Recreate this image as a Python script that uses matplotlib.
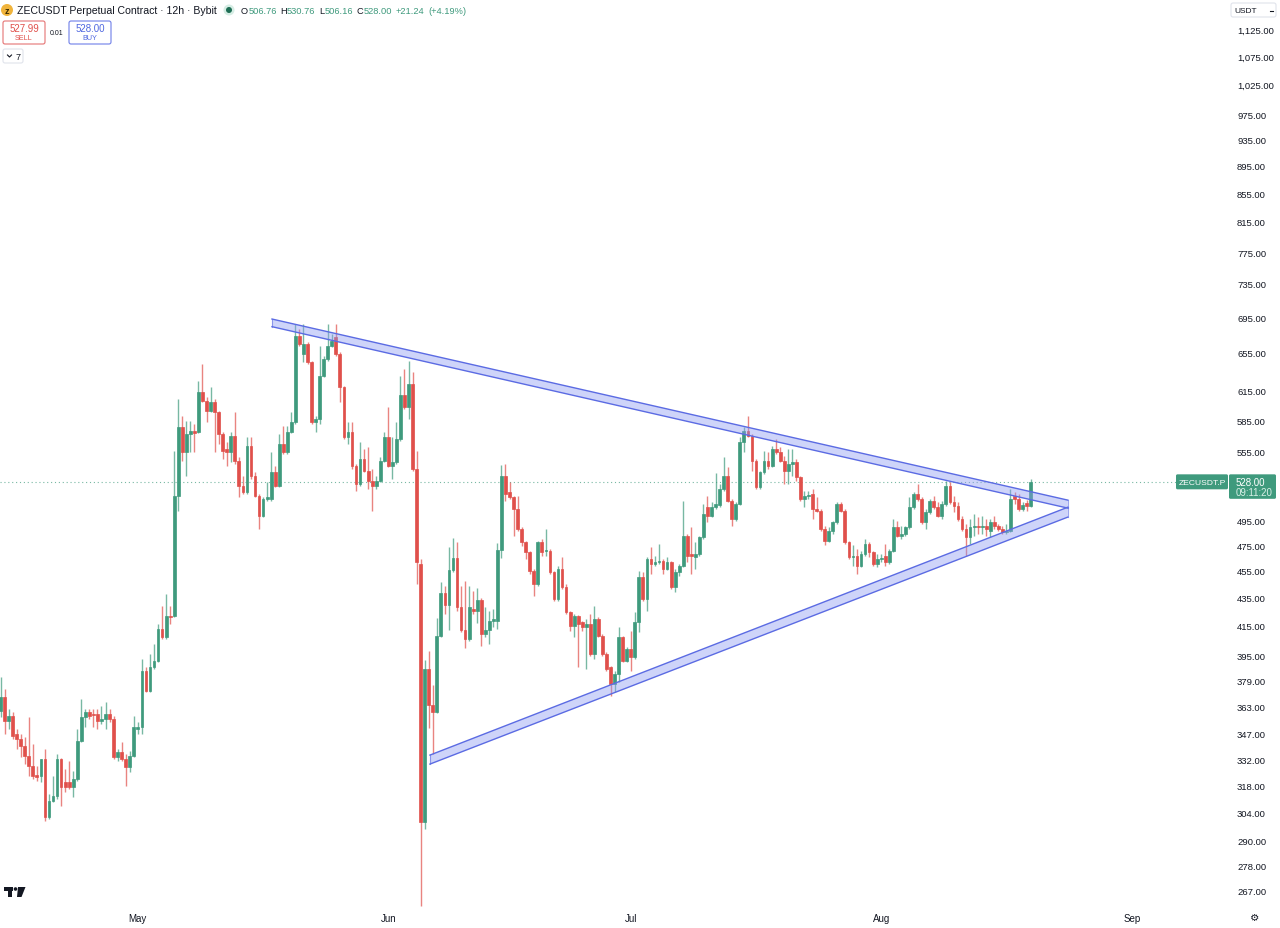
import numpy as np
import pandas as pd
import matplotlib
matplotlib.use('Agg')
import matplotlib.pyplot as plt
import matplotlib.dates as mdates
from matplotlib.patches import Polygon, FancyBboxPatch, Rectangle, Circle
from matplotlib.ticker import FixedLocator, NullLocator, FuncFormatter
from matplotlib.transforms import Affine2D

# ---------------- data (12h candles, ZECUSDT.P) ----------------
start_date = '2025-04-14'
opens = [360.0, 368.4, 353.9, 356.9, 346.4, 343.5, 339.5, 333.9, 328.4, 323.4,
         322.9, 332.2, 301.5, 309.7, 312.3, 332.2, 319.7, 319.7, 317.0, 321.3,
         342.4, 356.3, 359.3, 358.1, 358.1, 353.9, 355.1, 358.1, 355.1, 333.3,
         336.1, 332.2, 327.8, 333.9, 349.3, 350.5, 384.8, 372.2, 387.4, 391.3,
         412.8, 407.3, 421.8, 421.8, 515.5, 578.5, 554.8, 571.8, 574.7, 573.7,
         613.5, 604.3, 594.2, 603.3, 593.2, 571.8, 557.6, 554.8, 569.9, 546.6,
         524.2, 518.9, 560.4, 533.1, 515.5, 498.6, 512.9, 512.9, 536.6, 524.2,
         562.3, 554.8, 573.7, 583.4, 673.5, 653.6, 664.6, 644.9, 583.4, 586.3,
         630.0, 648.2, 662.4, 672.4, 653.6, 618.6, 568.9, 573.7, 542.0, 526.0,
         548.4, 537.5, 528.6, 524.2, 528.6, 546.6, 568.9, 542.0, 545.7, 567.0,
         610.3, 598.2, 621.7, 539.3, 460.1, 299.0, 386.1, 363.5, 359.3, 408.0,
         438.4, 429.6, 455.5, 464.8, 428.2, 412.1, 405.9, 426.8, 425.4, 433.3,
         409.3, 412.1, 418.3, 418.3, 471.0, 533.1, 518.9, 514.6, 504.4, 487.8,
         477.3, 469.4, 454.8, 445.0, 477.3, 470.2, 470.2, 454.0, 434.0, 456.3,
         442.8, 424.7, 414.9, 421.8, 417.6, 414.2, 416.2, 395.9, 419.7, 407.9,
         395.9, 387.4, 376.5, 382.9, 407.3, 391.3, 399.2, 393.9, 417.6, 450.2,
         434.0, 464.0, 460.1, 461.7, 462.5, 456.3, 461.7, 442.8, 454.0, 458.6,
         482.1, 467.9, 465.6, 467.9, 481.3, 506.1, 498.6, 506.1, 507.7, 521.6,
         533.1, 511.2, 496.1, 508.6, 564.2, 574.7, 569.9, 546.6, 523.4, 536.6,
         546.6, 542.0, 557.6, 554.8, 546.6, 537.5, 543.8, 545.7, 532.2, 512.9,
         515.5, 517.2, 504.4, 502.7, 487.8, 478.1, 486.2, 493.6, 508.6, 502.7,
         477.3, 465.6, 466.3, 458.6, 467.9, 475.7, 469.4, 460.1, 464.0, 466.3,
         461.7, 470.2, 489.4, 482.1, 483.7, 489.4, 506.1, 517.2, 512.9, 493.6,
         501.9, 511.2, 506.1, 498.6, 508.6, 524.2, 510.3, 506.9, 496.1, 487.8,
         481.3, 489.4, 490.3, 489.4, 490.3, 486.2, 493.6, 490.3, 487.8, 485.4,
         486.2, 515.5, 512.9, 504.4, 510.0, 506.76]
highs = [381.0, 373.4, 361.1, 359.3, 349.3, 346.4, 344.7, 356.3, 340.6, 328.4,
         332.2, 337.8, 313.3, 322.9, 335.0, 333.0, 326.7, 331.1, 325.6, 349.3,
         367.2, 361.1, 361.1, 361.1, 361.1, 362.9, 365.4, 361.1, 356.9, 337.8,
         341.8, 335.0, 336.7, 356.9, 353.3, 392.6, 387.4, 395.9, 402.5, 416.2,
         429.0, 437.6, 429.0, 555.8, 606.3, 589.3, 584.4, 584.4, 581.4, 624.8,
         642.8, 608.3, 618.6, 606.3, 594.0, 573.7, 564.2, 573.7, 593.2, 550.2,
         533.1, 568.9, 568.9, 536.6, 517.2, 514.6, 527.7, 554.8, 542.0, 571.8,
         579.5, 579.5, 593.2, 687.3, 681.5, 687.3, 666.8, 646.0, 589.3, 662.4,
         651.5, 687.3, 675.8, 687.3, 655.8, 619.6, 583.4, 583.4, 543.8, 564.2,
         557.6, 559.5, 539.3, 533.1, 550.2, 573.7, 598.2, 568.9, 583.4, 630.0,
         637.4, 646.0, 634.2, 555.8, 464.0, 392.0, 397.9, 375.9, 420.4, 446.5,
         443.5, 473.4, 480.5, 477.3, 443.5, 447.2, 443.5, 439.8, 442.0, 434.7,
         428.2, 425.4, 426.8, 476.5, 542.9, 543.8, 527.7, 515.5, 515.5, 489.4,
         478.1, 470.2, 456.3, 478.1, 479.7, 487.8, 471.8, 454.8, 458.6, 465.6,
         445.0, 425.4, 423.3, 422.5, 418.3, 419.7, 423.3, 428.9, 421.1, 409.3,
         397.2, 388.0, 384.8, 414.2, 407.9, 400.5, 411.4, 424.7, 454.8, 454.0,
         465.6, 473.4, 466.3, 475.7, 464.0, 465.6, 462.5, 456.3, 460.1, 511.2,
         483.7, 489.4, 477.3, 482.1, 508.6, 515.5, 510.3, 535.7, 526.0, 550.2,
         541.1, 512.9, 510.3, 568.9, 578.5, 589.3, 571.8, 548.4, 537.5, 555.8,
         554.8, 560.4, 567.0, 559.5, 551.1, 557.6, 557.6, 548.4, 533.1, 519.9,
         519.9, 521.6, 514.6, 504.4, 490.3, 489.4, 494.4, 510.3, 510.3, 504.4,
         478.1, 474.9, 471.8, 470.2, 479.7, 477.3, 470.2, 467.9, 467.9, 475.7,
         471.8, 496.1, 494.4, 490.3, 490.3, 514.6, 518.9, 526.0, 514.6, 504.4,
         512.9, 515.5, 510.3, 511.2, 528.6, 527.7, 515.5, 510.3, 498.6, 491.9,
         496.1, 500.2, 497.8, 498.6, 496.1, 496.1, 498.6, 491.9, 490.3, 491.9,
         521.6, 518.9, 517.2, 510.3, 512.0, 530.76]
lows = [356.3, 346.4, 349.3, 343.5, 337.8, 333.3, 329.5, 322.9, 321.3, 320.2,
        319.7, 299.5, 300.5, 309.2, 310.7, 307.1, 314.3, 315.9, 311.7, 320.2,
        341.8, 350.5, 355.1, 350.5, 349.3, 352.2, 349.3, 353.3, 332.2, 331.1,
        331.1, 317.5, 325.1, 333.3, 346.4, 346.4, 371.5, 371.5, 386.1, 390.6,
        405.9, 405.9, 416.2, 421.0, 502.7, 546.6, 533.1, 554.8, 554.8, 573.0,
        603.3, 583.4, 593.2, 554.8, 562.3, 548.4, 542.0, 545.7, 543.8, 514.6,
        517.2, 517.2, 530.4, 514.6, 487.8, 497.8, 511.2, 511.2, 523.4, 523.5,
        553.0, 553.0, 573.0, 581.4, 662.4, 644.9, 642.8, 581.4, 573.7, 581.4,
        628.9, 646.0, 661.3, 651.5, 603.3, 567.0, 562.3, 539.3, 519.9, 524.2,
        536.6, 521.6, 502.7, 521.6, 527.7, 545.7, 541.1, 530.4, 543.8, 565.1,
        596.2, 586.3, 537.5, 445.0, 259.9, 295.5, 349.9, 335.0, 358.7, 407.3,
        423.3, 412.1, 454.0, 425.4, 410.7, 399.9, 404.6, 423.3, 417.0, 401.2,
        407.3, 402.5, 414.2, 412.8, 464.8, 511.2, 512.9, 482.1, 486.2, 474.2,
        464.0, 452.6, 436.2, 443.5, 466.3, 466.3, 452.6, 432.6, 432.6, 441.3,
        423.3, 411.4, 407.3, 387.4, 411.4, 386.1, 394.6, 392.6, 407.3, 394.6,
        384.8, 369.1, 371.5, 377.8, 390.6, 390.6, 384.8, 392.6, 410.7, 432.6,
        425.4, 452.6, 458.6, 460.1, 452.6, 455.5, 441.3, 439.1, 451.0, 457.8,
        461.7, 452.6, 456.3, 466.3, 479.7, 493.6, 497.8, 504.4, 506.1, 519.9,
        510.3, 490.3, 494.4, 507.7, 554.8, 568.9, 537.5, 521.6, 521.6, 534.8,
        539.3, 541.1, 553.0, 545.7, 526.0, 526.0, 533.1, 528.6, 511.2, 506.1,
        512.9, 496.1, 501.9, 486.2, 474.9, 477.3, 483.7, 491.9, 501.9, 475.7,
        464.0, 458.6, 452.6, 457.8, 466.3, 465.6, 458.6, 457.8, 461.7, 458.6,
        460.1, 469.4, 481.3, 479.7, 482.1, 487.8, 504.4, 511.2, 491.9, 487.8,
        500.2, 504.4, 497.8, 496.1, 506.9, 508.6, 501.9, 494.4, 486.2, 466.3,
        475.7, 482.1, 483.7, 483.7, 482.1, 481.3, 487.8, 486.2, 483.7, 483.7,
        485.4, 508.6, 502.7, 502.7, 503.0, 506.16]
closes = [368.4, 353.9, 356.9, 345.2, 343.5, 339.5, 333.9, 328.4, 322.9, 322.4,
          332.2, 301.5, 309.7, 312.3, 332.2, 317.0, 317.0, 317.0, 321.3, 342.4,
          356.3, 359.3, 356.9, 357.5, 353.9, 355.1, 358.1, 355.1, 333.3, 336.1,
          332.2, 327.8, 333.9, 350.5, 350.5, 384.8, 372.2, 387.4, 391.3, 412.8,
          407.3, 421.8, 421.1, 515.5, 578.5, 554.8, 571.8, 574.7, 572.7, 613.5,
          604.3, 594.2, 603.3, 593.2, 571.8, 555.8, 554.8, 569.9, 546.6, 524.2,
          518.9, 560.4, 533.1, 515.5, 498.6, 512.9, 514.6, 536.6, 524.2, 562.3,
          554.8, 573.7, 583.4, 673.5, 664.6, 664.6, 644.9, 583.4, 586.3, 630.0,
          648.2, 662.4, 667.9, 653.6, 618.6, 568.9, 573.7, 542.0, 526.0, 548.4,
          537.5, 528.6, 524.2, 528.6, 546.6, 568.9, 542.0, 545.7, 567.0, 610.3,
          598.2, 621.7, 539.3, 461.7, 299.0, 386.1, 363.5, 359.3, 408.0, 438.4,
          429.6, 455.5, 464.8, 428.2, 412.1, 405.9, 428.2, 425.4, 433.3, 409.3,
          412.1, 418.3, 419.7, 471.0, 533.1, 517.2, 514.6, 504.4, 487.8, 477.3,
          469.4, 454.8, 445.0, 477.3, 469.4, 471.0, 454.0, 434.0, 456.3, 442.8,
          424.7, 414.9, 421.8, 416.2, 414.2, 416.2, 395.9, 419.7, 407.9, 395.9,
          386.1, 376.5, 382.9, 407.3, 391.3, 399.2, 393.9, 417.6, 450.2, 434.0,
          464.0, 460.1, 461.7, 462.5, 456.3, 461.7, 442.8, 454.0, 458.6, 482.1,
          466.3, 466.3, 467.9, 481.3, 500.2, 498.6, 506.1, 508.6, 521.6, 533.1,
          511.2, 496.1, 508.6, 564.2, 574.7, 569.9, 546.6, 523.4, 536.6, 546.6,
          542.0, 557.6, 554.8, 546.6, 537.5, 543.8, 545.7, 532.2, 512.9, 515.5,
          516.3, 504.4, 502.7, 487.8, 478.1, 486.2, 493.6, 508.6, 502.7, 477.3,
          465.6, 466.3, 458.6, 467.9, 475.7, 469.4, 460.1, 464.0, 464.8, 461.7,
          470.2, 489.4, 482.1, 483.7, 489.4, 506.1, 517.2, 512.9, 493.6, 501.9,
          511.2, 506.1, 498.6, 508.6, 524.2, 510.3, 506.9, 496.1, 487.8, 481.3,
          489.4, 490.3, 489.4, 490.3, 487.8, 493.6, 490.3, 487.8, 485.4, 486.2,
          512.9, 512.9, 504.4, 507.7, 506.76, 528.00]

price_ticks = [1125, 1075, 1025, 975, 935, 895, 855, 815, 775, 735, 695, 655,
               615, 585, 555, 495, 475, 455, 435, 415, 395, 379, 363, 347, 332,
               318, 304, 290, 278, 267]
month_labels = ['May', 'Jun', 'Jul', 'Aug', 'Sep']
month_dates = ['2025-05-01', '2025-06-01', '2025-07-01', '2025-08-01', '2025-09-01']

# triangle drawing (candle index, price) endpoints of the two bands
upper_idx = [67.2, 264.2]
upper_top = [693.0, 512.1]
upper_bot = [684.2, 505.3]
lower_idx = [106.3, 264.2]
lower_top = [334.5, 506.1]
lower_bot = [329.5, 497.8]

last_price = closes[-1]

# ---------------- figure ----------------
W, H = 1280, 929
fig = plt.figure(figsize=(W / 100, H / 100), dpi=100)
fig.patch.set_facecolor('white')
ax = fig.add_axes([0, (H - 910) / H, 1228 / W, 910 / H])
ax.set_facecolor('white')

UP = '#3f9a7d'
DOWN = '#e0504b'
TXT = '#131722'
FONT = 'Liberation Sans'

n = len(opens)
base = mdates.date2num(pd.Timestamp(start_date))
dates = pd.date_range(start_date, periods=n, freq='12h')
x = mdates.date2num(dates)
o = np.array(opens); h = np.array(highs); l = np.array(lows); c = np.array(closes)
up = c >= o
cols = np.where(up, UP, DOWN)

ax.set_yscale('log')
ax.vlines(x, l, h, colors=cols, lw=1.0, alpha=0.7, zorder=2)
bottoms = np.minimum(o, c)
heights = np.maximum(np.abs(c - o), 0.4)
ax.bar(x, heights, width=0.34, bottom=bottoms, color=cols, edgecolor=cols,
       linewidth=0.5, zorder=3)

# bands
def band(idx, top, bot):
    xs = [base + i * 0.5 for i in idx]
    pts = [(xs[0], top[0]), (xs[1], top[1]), (xs[1], bot[1]), (xs[0], bot[0])]
    ax.add_patch(Polygon(pts, closed=True, facecolor='#8c99f2', alpha=0.42,
                         edgecolor='none', zorder=4))
    ax.plot(xs, top, color='#5b6be3', lw=1.0, zorder=5)
    ax.plot(xs, bot, color='#5b6be3', lw=1.0, zorder=5)
    ax.plot([xs[0], xs[0]], [top[0], bot[0]], color='#5b6be3', lw=0.8, alpha=0.6, zorder=5)
    ax.plot([xs[1], xs[1]], [top[1], bot[1]], color='#5b6be3', lw=0.8, alpha=0.6, zorder=5)

band(upper_idx, upper_top, upper_bot)
band(lower_idx, lower_top, lower_bot)

# last price dotted line
ax.axhline(last_price, color=UP, lw=0.8, ls=(0, (1, 2.5)), alpha=0.7, zorder=1)

ax.set_ylim(258.66, 1182.8)
ax.set_xlim(base - 0.062, base + 151.92)

ax.yaxis.tick_right()
ax.yaxis.set_major_locator(FixedLocator(price_ticks))
ax.yaxis.set_minor_locator(NullLocator())
ax.yaxis.set_major_formatter(FuncFormatter(lambda v, p: f'{v:,.2f}'))
ax.tick_params(axis='y', length=0, pad=6.5, labelsize=6.8, colors=TXT)
for t in ax.get_yticklabels():
    t.set_fontfamily(FONT)

ax.set_xticks(mdates.date2num(pd.to_datetime(month_dates)))
ax.set_xticklabels(month_labels)
ax.xaxis.set_minor_locator(NullLocator())
ax.tick_params(axis='x', length=0, pad=3, labelsize=7, colors=TXT)
for t in ax.get_xticklabels():
    t.set_fontfamily(FONT)
for s in ax.spines.values():
    s.set_visible(False)

# ---------------- decorations in pixel coordinates (top-left origin) ----------------
ptr = Affine2D().scale(1 / 100) + fig.dpi_scale_trans   # pixel units, origin bottom-left

def ftext(px, py, s, **kw):
    kw.setdefault('fontfamily', FONT)
    kw.setdefault('va', 'center')
    kw.setdefault('ha', 'left')
    kw.setdefault('color', TXT)
    return fig.text(px / W, 1 - py / H, s, **kw)

def rbox(x0, y0, x1, y1, ec, fc='white', r=2, lw=0.8):
    p = FancyBboxPatch((x0, H - y1), x1 - x0, y1 - y0,
                       boxstyle=f'round,pad=0,rounding_size={r}',
                       transform=ptr, facecolor=fc, edgecolor=ec, lw=lw)
    fig.add_artist(p)

def circ(px, py, r, col):
    fig.add_artist(Circle((px, H - py), r, transform=ptr, facecolor=col, edgecolor='none'))

def pline(xs, ys, **kw):
    fig.add_artist(plt.Line2D(xs, [H - v for v in ys], transform=ptr, **kw))

# symbol icon
circ(7, 11, 6, '#f0b43c')
ftext(7, 11.3, 'z', ha='center', fontsize=6.5, color='#3a2a00', fontweight='bold')
ftext(17, 11, 'ZECUSDT Perpetual Contract · 12h · Bybit', fontsize=7.6)
circ(229, 11, 5.5, '#d6ede4')
circ(229, 11, 3, '#1f6e55')

# OHLC legend laid out sequentially with measured widths
renderer = fig.canvas.get_renderer()
ohlc = [('O', TXT, 0.3), ('506.76', UP, 3.5), ('H', TXT, 0.3), ('530.76', UP, 3.5),
        ('L', TXT, 0.3), ('506.16', UP, 3.5), ('C', TXT, 0.3), ('528.00', UP, 4.0),
        ('+21.24', UP, 4.0), ('(+4.19%)', UP, 0)]
cur = 241.0
for s, col, gap in ohlc:
    t = ftext(cur, 11.5, s, fontsize=6.7, color=col)
    wpx = t.get_window_extent(renderer=renderer).width
    cur += wpx + gap

# sell / buy boxes
rbox(3, 22, 45, 45, ec='#e57373')
ftext(24, 29.5, '527.99', ha='center', fontsize=7.0, color='#e0504b')
ftext(24, 39, 'SELL', ha='center', fontsize=5.2, color='#e0504b')
ftext(56.5, 33.5, '0.01', ha='center', fontsize=5.0, color=TXT)
rbox(69, 22, 111, 45, ec='#6f7fe8')
ftext(90, 29.5, '528.00', ha='center', fontsize=7.0, color='#5068e0')
ftext(90, 39, 'BUY', ha='center', fontsize=5.2, color='#5068e0')

# collapse box
rbox(3, 50, 23, 64, ec='#e0e3eb')
pline([7.5, 9.5, 11.5], [56, 58, 56], color=TXT, lw=0.8)
ftext(16, 57.3, '7', fontsize=6.5)

# currency box
rbox(1231, 4, 1276, 18, ec='#e0e3eb')
ftext(1234, 11.3, 'USDT', fontsize=6.0)
pline([1269.5, 1272.5], [11.5, 11.5], color=TXT, lw=0.8)

# last price labels
fig.canvas.draw()
yd = ax.transData.transform((base, last_price))[1]
ypx = H - yd
rbox(1176, ypx - 7.5, 1228, ypx + 7.5, ec='none', fc=UP, r=1.5)
ftext(1202, ypx + 0.3, 'ZECUSDT.P', ha='center', fontsize=6.1, color='white')
rbox(1229, ypx - 7.5, 1276, ypx + 17, ec='none', fc=UP, r=1.5)
ftext(1236, ypx + 0.3, f'{last_price:.2f}', fontsize=7.0, color='white')
ftext(1236, ypx + 10.5, '09:11:20', fontsize=7.0, color='#d8efe6')

# TradingView logo
fig.add_artist(Rectangle((4, H - 891.5), 9, 3.5, transform=ptr, facecolor=TXT, edgecolor='none'))
fig.add_artist(Rectangle((8, H - 898), 4, 10, transform=ptr, facecolor=TXT, edgecolor='none'))
circ(15.5, 890, 1.8, TXT)
fig.add_artist(Polygon([(18, H - 888), (25.5, H - 888), (21.5, H - 898), (17, H - 898)],
                       closed=True, transform=ptr, facecolor=TXT, edgecolor='none'))

# settings gear
ftext(1255, 918.5, '⚙', ha='center', fontsize=7.5, fontfamily='DejaVu Sans', color=TXT)

fig.savefig('out.png', dpi=100, facecolor='white')
